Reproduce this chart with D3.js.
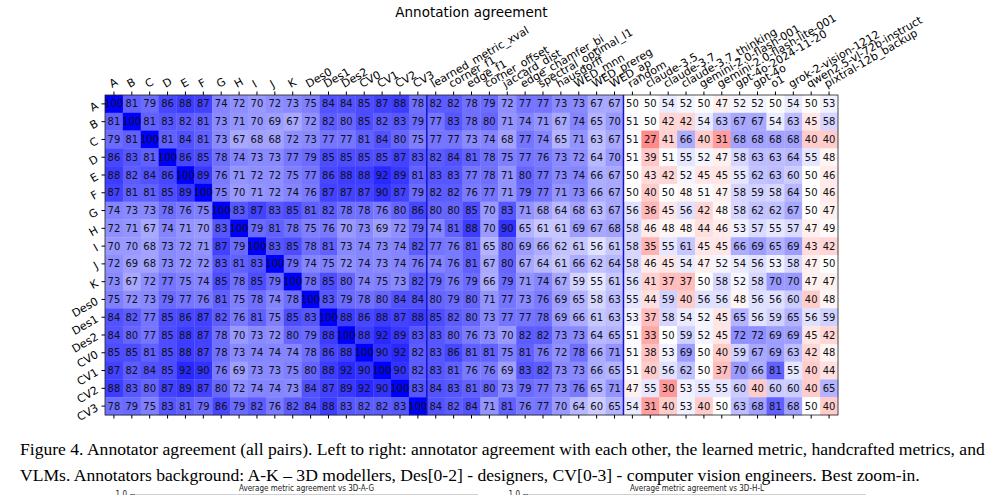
<!DOCTYPE html>
<html><head><meta charset="utf-8">
<script src="https://cdn.jsdelivr.net/npm/d3@7"></script>
<style>body{margin:0;background:#fff;}svg{display:block;}</style>
</head><body>
<script>
const rowLabels = ["A","B","C","D","E","F","G","H","I","J","K","Des0","Des1","Des2","CV0","CV1","CV2","CV3"];
const annCols = rowLabels.slice();
const metricCols = ["learned_metric_xval","corner_f1","edge_f1","corner_offset","jaccard_dist","edge_chamfer_bi","spectral_optimal_l1","hausdorff","WED_mnn","WED_prereg","WED_ap"];
const vlmCols = ["random","claude-3.5","claude-3.7","claude-3.7_thinking","gemini-2.0-flash-001","gemini-2.0-flash-lite-001","gpt-4o-2024-11-20","gpt-4o","o1","grok-2-vision-1212","qwen2.5-vl-72b-instruct","pixtral-12b_backup"];

const annAgree = [
[100,81,79,86,88,87,74,72,70,72,73,75,84,84,85,87,88,78],
[81,100,81,83,82,81,73,71,70,69,67,72,82,80,85,82,83,79],
[79,81,100,81,84,81,73,67,68,68,72,73,77,77,81,84,80,75],
[86,83,81,100,86,85,78,74,73,73,77,79,85,85,85,85,87,83],
[88,82,84,86,100,89,76,71,72,72,75,77,86,88,88,92,89,81],
[87,81,81,85,89,100,75,70,71,72,74,76,87,87,87,90,87,79],
[74,73,73,78,76,75,100,83,87,83,85,81,82,78,78,76,80,86],
[72,71,67,74,71,70,83,100,79,81,78,75,76,70,73,69,72,79],
[70,70,68,73,72,71,87,79,100,83,85,78,81,73,74,73,74,82],
[72,69,68,73,72,72,83,81,83,100,79,74,75,72,74,73,74,76],
[73,67,72,77,75,74,85,78,85,79,100,78,85,80,74,75,73,82],
[75,72,73,79,77,76,81,75,78,74,78,100,83,79,78,80,84,84],
[84,82,77,85,86,87,82,76,81,75,85,83,100,88,86,88,87,88],
[84,80,77,85,88,87,78,70,73,72,80,79,88,100,88,92,89,83],
[85,85,81,85,88,87,78,73,74,74,74,78,86,88,100,90,92,82],
[87,82,84,85,92,90,76,69,73,73,75,80,88,92,90,100,90,82],
[88,83,80,87,89,87,80,72,74,74,73,84,87,89,92,90,100,83],
[78,79,75,83,81,79,86,79,82,76,82,84,88,83,82,82,83,100]
];
const metricAgree = [
[82,82,78,79,72,77,77,73,73,67,67],
[77,83,78,80,71,74,71,67,74,65,70],
[77,77,73,74,68,77,74,65,71,63,67],
[82,84,81,78,75,77,76,73,72,64,70],
[83,83,77,78,71,80,77,73,74,66,67],
[82,82,76,77,71,79,77,71,73,66,67],
[80,80,85,70,83,71,68,64,68,63,67],
[74,81,88,70,90,65,61,61,69,67,68],
[77,76,81,65,80,69,66,62,61,56,61],
[74,76,81,67,80,67,64,61,66,62,64],
[79,76,79,66,79,71,74,67,59,55,61],
[80,79,80,71,77,73,76,69,65,58,63],
[85,82,80,73,77,77,78,69,66,61,63],
[83,80,76,73,70,82,82,73,73,64,65],
[83,86,81,81,75,81,76,72,78,66,71],
[83,81,76,76,69,83,82,73,73,66,65],
[84,83,81,80,73,79,77,73,76,65,71],
[84,82,84,71,81,76,77,70,64,60,65]
];
const vlmAgree = [
[50,50,54,52,50,47,52,52,50,54,50,53],
[51,50,42,42,54,63,67,67,54,63,45,58],
[51,27,41,66,40,31,68,68,68,68,40,40],
[51,39,51,55,52,47,58,63,63,64,55,48],
[50,43,42,52,45,45,55,62,63,60,50,46],
[50,40,50,48,51,47,58,59,58,64,50,46],
[56,36,45,56,42,48,58,62,62,67,50,47],
[58,46,48,48,44,46,53,57,55,57,47,49],
[58,35,55,61,45,45,66,69,65,69,43,42],
[58,46,45,54,47,52,54,56,53,58,47,50],
[56,41,37,37,50,58,52,58,70,70,47,47],
[55,44,59,40,56,56,48,56,56,60,40,48],
[53,37,58,54,52,45,65,56,59,65,56,59],
[51,33,50,59,52,45,72,72,69,69,45,42],
[51,38,53,69,50,40,59,67,69,63,42,48],
[51,40,56,62,50,37,70,66,81,55,40,44],
[47,55,30,53,55,55,60,40,60,60,40,65],
[54,31,40,53,40,50,63,68,81,68,50,40]
];

const title = "Annotation agreement";
const captionLines = [
 "Figure 4. Annotator agreement (all pairs). Left to right: annotator agreement with each other, the learned metric, handcrafted metrics, and",
 "VLMs. Annotators background: A-K \u2013 3D modellers, Des[0-2] - designers, CV[0-3] - computer vision engineers. Best zoom-in."
];
const subTitles = ["Average metric agreement vs 3D-A-G","Average metric agreement vs 3D-H-L"];

const W = 1000, H = 495;
const svg = d3.select("body").append("svg").attr("width", W).attr("height", H);

const allCols = annCols.concat(metricCols, vlmCols);
const cells = [];
rowLabels.forEach((r, i) => {
  const vals = annAgree[i].concat(metricAgree[i], vlmAgree[i]);
  vals.forEach((v, j) => cells.push({r, c: allCols[j], j, v}));
});

const L = 105, R = 838, T = 95, B = 415;
const x = d3.scaleBand().domain(d3.range(allCols.length)).range([L, R]);
const y = d3.scaleBand().domain(rowLabels).range([T, B]);
const color = d3.scaleLinear().domain([0, 50, 100]).range(["#ff0000", "#ffffff", "#0000ff"]);

const g = svg.append("g");
g.selectAll("rect.cell").data(cells).join("rect")
  .attr("x", d => x(d.j)).attr("y", d => y(d.r))
  .attr("width", x.bandwidth() + 0.3).attr("height", y.bandwidth() + 0.3)
  .attr("fill", d => color(d.v));

g.selectAll("text.val").data(cells).join("text")
  .attr("x", d => x(d.j) + x.bandwidth() / 2)
  .attr("y", d => y(d.r) + y.bandwidth() / 2 + 3.6)
  .attr("text-anchor", "middle")
  .attr("font-family", "DejaVu Sans").attr("font-size", 10)
  .attr("fill", "#111")
  .text(d => d.v);

// group dividers
[annCols.length, annCols.length + metricCols.length].forEach(k => {
  g.append("line").attr("x1", x(k)).attr("x2", x(k)).attr("y1", T).attr("y2", B)
    .attr("stroke", "#1414c8").attr("stroke-width", 1.5);
});

// frame
g.append("rect").attr("x", L).attr("y", T).attr("width", R - L).attr("height", B - T)
  .attr("fill", "none").attr("stroke", "#222").attr("stroke-width", 0.8);

// axes
const xTop = d3.axisTop(x).tickSize(3.5).tickSizeOuter(0).tickFormat(i => allCols[i]);
const gx = svg.append("g").attr("transform", `translate(0,${T})`).call(xTop);
gx.select(".domain").remove();
gx.selectAll("text")
  .attr("font-family", "DejaVu Sans").attr("font-size", 11).attr("fill", "#000")
  .attr("text-anchor", "start").attr("dy", 0).attr("y", 0)
  .attr("transform", "translate(-2,-7) rotate(-30)");

const xBot = d3.axisBottom(x).tickSize(3.5).tickSizeOuter(0).tickFormat("");
const gxb = svg.append("g").attr("transform", `translate(0,${B})`).call(xBot);
gxb.select(".domain").remove();

const yLeft = d3.axisLeft(y).tickSize(3.5).tickSizeOuter(0);
const gy = svg.append("g").attr("transform", `translate(${L},0)`).call(yLeft);
gy.select(".domain").remove();
gy.selectAll("text")
  .attr("font-family", "DejaVu Sans").attr("font-size", 11).attr("fill", "#000")
  .attr("text-anchor", "end").attr("dy", 0).attr("x", 0)
  .attr("transform", "translate(-6,4) rotate(-30)");

// title
svg.append("text").attr("x", (L + R) / 2).attr("y", 17).attr("text-anchor", "middle")
  .attr("font-family", "DejaVu Sans").attr("font-size", 13.5).attr("fill", "#000").text(title);

// caption
const cap1 = svg.append("text").attr("x", 20).attr("y", 455)
  .attr("font-family", "Liberation Serif").attr("font-size", 17).attr("fill", "#000").text(captionLines[0]);
const w1 = cap1.node().getComputedTextLength();
const fs = 17 * 965 / w1;
cap1.attr("font-size", fs);
svg.append("text").attr("x", 20).attr("y", 481)
  .attr("font-family", "Liberation Serif").attr("font-size", fs).attr("fill", "#000").text(captionLines[1]);

// bottom partial subplots
const subAxes = [[135, 478], [528, 866]];
subAxes.forEach((a, i) => {
  svg.append("text").attr("x", (a[0] + a[1]) / 2).attr("y", 491).attr("text-anchor", "middle")
    .attr("font-family", "DejaVu Sans Condensed, DejaVu Sans").attr("font-size", 8).attr("fill", "#222")
    .text(subTitles[i]);
  svg.append("text").attr("x", a[0] - 8).attr("y", 497).attr("text-anchor", "end")
    .attr("font-family", "DejaVu Sans Condensed, DejaVu Sans").attr("font-size", 8).attr("fill", "#222").text("1.0");
  svg.append("line").attr("x1", a[0] - 5).attr("x2", a[0]).attr("y1", 494.5).attr("y2", 494.5)
    .attr("stroke", "#444").attr("stroke-width", 0.7);
  svg.append("line").attr("x1", a[0]).attr("x2", a[1]).attr("y1", 494.5).attr("y2", 494.5)
    .attr("stroke", "#bbb").attr("stroke-width", 0.7);
});
</script>
</body></html>
